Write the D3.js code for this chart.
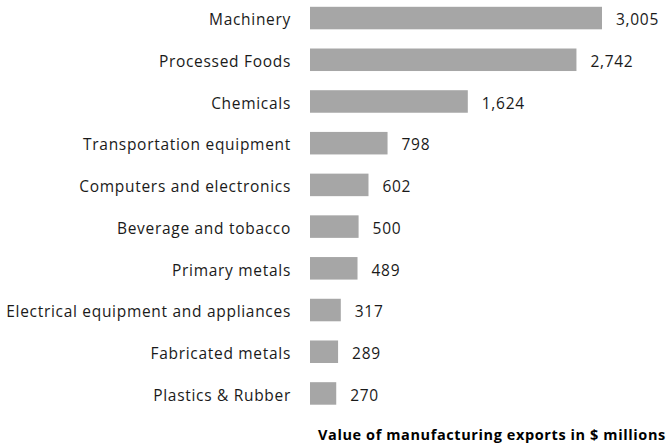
<!DOCTYPE html>
<html><head><meta charset="utf-8">
<script src="https://cdn.jsdelivr.net/npm/d3@7"></script>
<style>body{margin:0;background:#fff}svg{display:block}</style>
</head><body>
<svg id="chart" width="671" height="446"></svg>
<script>
const categories = ["Machinery","Processed Foods","Chemicals","Transportation equipment","Computers and electronics","Beverage and tobacco","Primary metals","Electrical equipment and appliances","Fabricated metals","Plastics & Rubber"];
const values = [3005,2742,1624,798,602,500,489,317,289,270];
const axisTitle = "Value of manufacturing exports in $ millions";

const svg = d3.select("#chart");
const font = "'Open Sans', sans-serif";
const x = d3.scaleLinear().domain([0,3005]).range([310,602]);
const y = d3.scaleBand().domain(categories).range([-2.8,414.3]).paddingInner(0.46).paddingOuter(0.23);

const data = categories.map((c,i)=>({c, v: values[i]}));
svg.selectAll("rect.bar").data(data).join("rect").attr("class","bar")
  .attr("x", x(0)).attr("y", d=>y(d.c)).attr("width", d=>x(d.v)-x(0)).attr("height", y.bandwidth())
  .attr("fill","#a6a6a6");

svg.selectAll("text.cat").data(data).join("text").attr("class","cat")
  .attr("x", 291).attr("y", d=>y(d.c)+y.bandwidth()/2 + 7.3)
  .attr("text-anchor","end").attr("font-family",font).attr("font-size",15.5)
  .attr("letter-spacing","0.7px").attr("fill","#1a1a1a")
  .text(d=>d.c);

const fmt = d3.format(",");
svg.selectAll("text.val").data(data).join("text").attr("class","val")
  .attr("x", d=>x(d.v)+14).attr("y", d=>y(d.c)+y.bandwidth()/2 + 7.3)
  .attr("font-family",font).attr("font-size",15.5).attr("letter-spacing","0.7px").attr("fill","#1a1a1a")
  .text(d=>fmt(d.v));

svg.append("text").attr("x",318).attr("y",440)
  .attr("font-family",font).attr("font-size",14.5).attr("font-weight","bold")
  .attr("letter-spacing","0.6px").attr("fill","#000")
  .text(axisTitle);
</script>
</body></html>
